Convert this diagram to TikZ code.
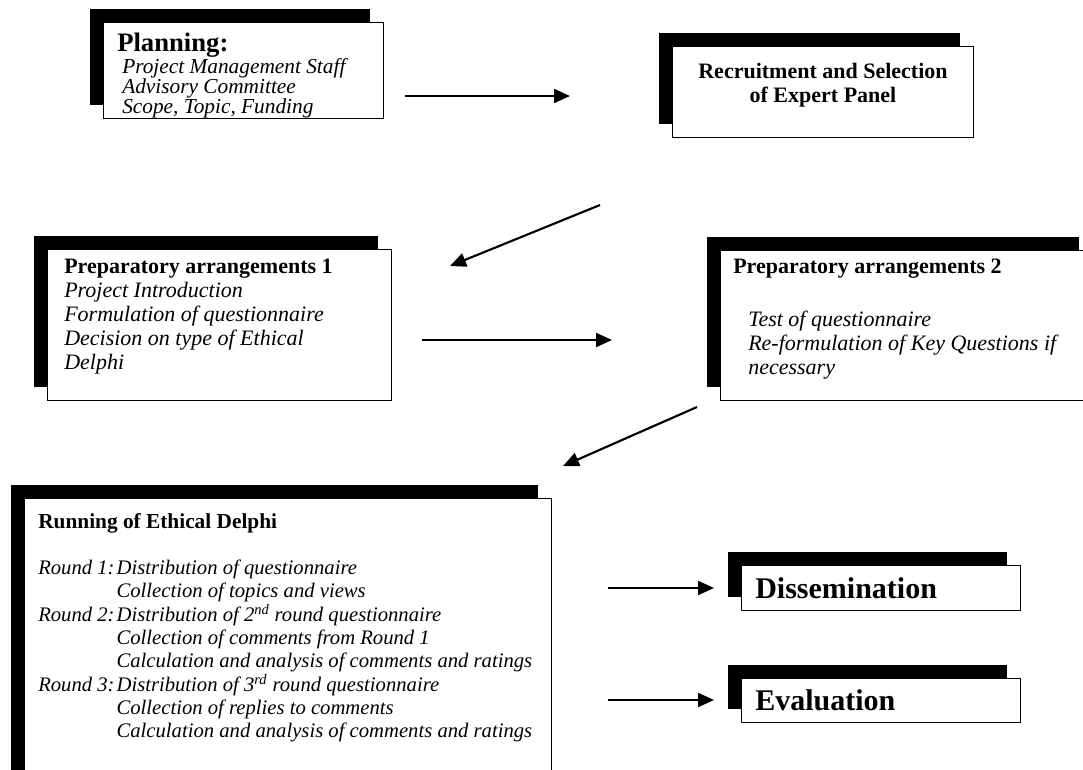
\documentclass[tikz,border=0pt]{standalone}
\usepackage{fontspec}
\setmainfont{Liberation Serif}
\usetikzlibrary{arrows.meta,shadows,positioning}
\tikzset{
  boxsize/.style 2 args={minimum width=#1*0.75pt, minimum height=#2*0.75pt},
  panel/.style={draw, line width=1pt, fill=white, anchor=north west, inner sep=0pt,
    drop shadow={shadow xshift=-10pt, shadow yshift=10.5pt, opacity=1, fill=black}},
  headtxt/.style={font=\bfseries\fontsize{16.5}{18}\selectfont, inner sep=0pt, anchor=north west},
  itemtxt/.style={font=\itshape\fontsize{16.5}{18}\selectfont, inner sep=0pt, anchor=north west, align=left},
  flow/.style={line width=1.6pt, -{Triangle[length=12pt,width=10.5pt]}},
}
\begin{document}
\begin{tikzpicture}[x=0.75pt,y=-0.75pt]
  \useasboundingbox (0,0) rectangle (1083,769);

  % planning
  \node[panel, boxsize={280}{96}] (plan) at (103,22) {};
  \node[headtxt, font=\bfseries\fontsize{20}{22}\selectfont] (plan-head) at (117,33) {Planning:};
  \node[itemtxt, font=\itshape\fontsize{16}{15}\selectfont] (plan-items) at (122,58)
    {Project Management Staff\\Advisory Committee\\Scope, Topic, Funding};

  % expert panel
  \node[panel, boxsize={301}{91}] (recr) at (672,46) {};
  \node[headtxt, anchor=center, align=center] (recr-txt) at (823,85)
    {Recruitment and Selection\\of Expert Panel};

  % preparatory arrangements
  \node[panel, boxsize={344}{151}] (prep1) at (47,249) {};
  \node[itemtxt] (prep1-txt) at (64,259)
    {{\upshape\bfseries Preparatory arrangements 1}\\Project Introduction\\
     Formulation of questionnaire\\Decision on type of Ethical\\Delphi};

  \node[panel, boxsize={372}{150}] (prep2) at (720,250) {};
  \node[headtxt] (prep2-head) at (733,259) {Preparatory arrangements 2};
  \node[itemtxt] (prep2-items) at (748,311)
    {Test of questionnaire\\Re-formulation of Key Questions if\\necessary};

  % running the delphi
  \node[panel, boxsize={527}{290}] (run) at (24,498) {};
  \node[headtxt, font=\bfseries\fontsize{16}{18}\selectfont] (run-head) at (38,513) {Running of Ethical Delphi};
  \node[itemtxt, font=\itshape\fontsize{15.5}{17.25}\selectfont] (run-items) at (38,558)
    {\begin{tabular}{@{}l@{\hspace{1.5pt}}l@{}}
      Round 1: & Distribution of questionnaire\\
               & Collection of topics and views\\
      Round 2: & Distribution of 2\textsuperscript{nd} round questionnaire\\
               & Collection of comments from Round 1\\
               & Calculation and analysis of comments and ratings\\
      Round 3: & Distribution of 3\textsuperscript{rd} round questionnaire\\
               & Collection of replies to comments\\
               & Calculation and analysis of comments and ratings
     \end{tabular}};

  % results
  \node[panel, boxsize={279}{45}] (diss) at (741,565) {};
  \node[headtxt, anchor=west, font=\bfseries\fontsize{22.5}{24}\selectfont] (diss-txt)
    at ([xshift=10.5pt]diss.west) {Dissemination};
  \node[panel, boxsize={279}{44}] (eval) at (741,678) {};
  \node[headtxt, anchor=west, font=\bfseries\fontsize{22.5}{24}\selectfont] (eval-txt)
    at ([xshift=10.5pt]eval.west) {Evaluation};

  % arrows between the steps
  \coordinate (a1s) at (405,96);  \coordinate (a1e) at (570,96);
  \coordinate (a2s) at (600,205); \coordinate (a2e) at (450,266);
  \coordinate (a3s) at (422,340); \coordinate (a3e) at (612,340);
  \coordinate (a4s) at (697,407); \coordinate (a4e) at (563,466);
  \coordinate (a5s) at (608,588); \coordinate (a5e) at (714,588);
  \coordinate (a6s) at (608,700); \coordinate (a6e) at (714,700);
  \draw[flow] (a1s) -- (a1e);
  \draw[flow] (a2s) -- (a2e);
  \draw[flow] (a3s) -- (a3e);
  \draw[flow] (a4s) -- (a4e);
  \draw[flow] (a5s) -- (a5e);
  \draw[flow] (a6s) -- (a6e);
\end{tikzpicture}
\end{document}
